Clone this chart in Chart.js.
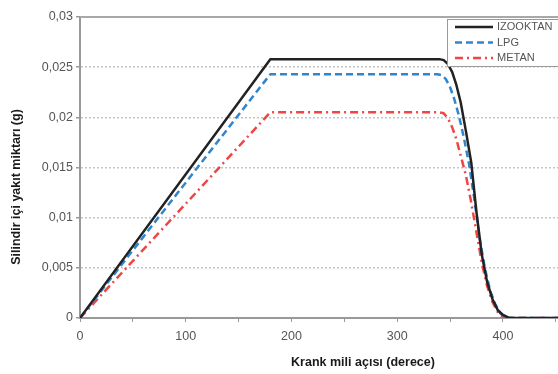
<!DOCTYPE html>
<html>
<head>
<meta charset="utf-8">
<script src="https://cdn.jsdelivr.net/npm/chart.js@4"></script>
<style>
    html, body { margin: 0; padding: 0; background: #fff; overflow: hidden; }
    #wrap { position: relative; width: 658px; height: 374px; }
</style>
</head>
<body>
<div id="wrap"><canvas id="chart"></canvas></div>
<script>
// crank angle (deg) -> fuel mass in cylinder (g)
const izooktanX = [0, 180, 340, 344, 348, 352, 356, 360, 365, 370, 375, 380, 385, 390, 395, 400, 405, 410, 540];
const izooktanY = [0, 0.0258, 0.0258, 0.0257, 0.0253, 0.0245, 0.0232, 0.0215, 0.0186, 0.0155, 0.0105, 0.0063, 0.0036, 0.0019, 0.0008, 0.0003, 0.00005, 0, 0];

const lpgX = [0, 180, 338, 342, 346, 350, 354, 358, 363, 368, 373, 378, 383, 388, 393, 398, 405, 540];
const lpgY = [0, 0.0243, 0.0243, 0.0242, 0.0238, 0.0230, 0.0218, 0.0203, 0.0180, 0.0153, 0.0118, 0.0079, 0.0049, 0.0027, 0.0013, 0.0004, 0, 0];

const metanX = [0, 180, 340, 344, 348, 352, 356, 360, 365, 370, 375, 380, 385, 390, 395, 400, 405, 540];
const metanY = [0, 0.0205, 0.0205, 0.0204, 0.0199, 0.0190, 0.0178, 0.0162, 0.0142, 0.0115, 0.0085, 0.0055, 0.0032, 0.0016, 0.0006, 0.0001, 0, 0];

const seriesNames = ['IZOOKTAN', 'LPG', 'METAN'];
const xTitle = 'Krank mili açısı (derece)';
const yTitle = 'Silindir içi yakıt miktarı (g)';

function toPoints(xs, ys) {
    return xs.map((x, i) => ({ x: x, y: ys[i] }));
}

function fmtComma(v) {
    return String(Math.round(v * 1000) / 1000).replace('.', ',');
}

// legend box, top line of the plot area and axis titles
const decorPlugin = {
    id: 'decor',
    afterDatasetsDraw(chart) {
        const ctx = chart.ctx;
        const area = chart.chartArea;
        ctx.save();
        // solid top border
        ctx.strokeStyle = '#a8a8a8';
        ctx.lineWidth = 2;
        ctx.beginPath();
        ctx.moveTo(area.left, area.top);
        ctx.lineTo(area.right, area.top);
        ctx.stroke();

        // legend
        const bx = 447.5, by = 19.5, bw = 120, bh = 47;
        ctx.fillStyle = '#fff';
        ctx.fillRect(bx, by, bw, bh);
        ctx.strokeStyle = '#999';
        ctx.lineWidth = 1;
        ctx.strokeRect(bx, by, bw, bh);
        ctx.font = '11px "Liberation Sans", Arial, sans-serif';
        ctx.textBaseline = 'middle';
        chart.data.datasets.forEach((ds, i) => {
            const yy = 27 + i * 15.5;
            ctx.strokeStyle = ds.borderColor;
            ctx.lineWidth = ds.borderWidth;
            ctx.setLineDash(ds.borderDash || []);
            ctx.beginPath();
            ctx.moveTo(455, yy);
            ctx.lineTo(493, yy);
            ctx.stroke();
            ctx.setLineDash([]);
            ctx.fillStyle = '#555';
            ctx.fillText(ds.label, 497, yy);
        });

        // axis titles
        ctx.fillStyle = '#1a1a1a';
        ctx.font = 'bold 12.5px "Liberation Sans", Arial, sans-serif';
        ctx.textAlign = 'center';
        ctx.fillText(xTitle, 363, 363);
        ctx.translate(17, 187);
        ctx.rotate(-Math.PI / 2);
        ctx.fillText(yTitle, 0, 0);
        ctx.restore();
    }
};

document.addEventListener('DOMContentLoaded', () => {
    const ctx = document.getElementById('chart').getContext('2d');
    const tickFont = { family: '"Liberation Sans", Arial, sans-serif', size: 12.5 };

    new Chart(ctx, {
        type: 'line',
        data: {
            datasets: [
                {
                    label: seriesNames[0],
                    data: toPoints(izooktanX, izooktanY),
                    borderColor: '#222',
                    borderWidth: 2.5,
                },
                {
                    label: seriesNames[1],
                    data: toPoints(lpgX, lpgY),
                    borderColor: '#2f86cf',
                    borderWidth: 2.5,
                    borderDash: [7, 4],
                },
                {
                    label: seriesNames[2],
                    data: toPoints(metanX, metanY),
                    borderColor: '#f04545',
                    borderWidth: 2.5,
                    borderDash: [8, 4, 2, 4],
                }
            ]
        },
        options: {
            responsive: true,
            maintainAspectRatio: false,
            animation: false,
            layout: { padding: { top: 17, right: 0, left: 0, bottom: 0 } },
            elements: {
                point: { radius: 0 },
                line: { tension: 0, fill: false, borderJoinStyle: 'round' }
            },
            plugins: {
                legend: { display: false },
                tooltip: { enabled: false }
            },
            scales: {
                x: {
                    type: 'linear',
                    min: 0,
                    max: 540,
                    afterFit: (scale) => { scale.height = 56; },
                    ticks: {
                        stepSize: 50,
                        autoSkip: false,
                        maxRotation: 0,
                        padding: 7,
                        color: '#555',
                        font: tickFont,
                        callback: (v) => (v % 100 === 0 ? String(v) : '')
                    },
                    grid: {
                        drawOnChartArea: false,
                        drawTicks: true,
                        tickLength: 4,
                        tickColor: '#999'
                    },
                    border: { color: '#999', width: 2 }
                },
                y: {
                    min: 0,
                    max: 0.03,
                    afterFit: (scale) => { scale.width = 80; },
                    ticks: {
                        stepSize: 0.005,
                        padding: 3,
                        color: '#555',
                        font: tickFont,
                        callback: (v) => fmtComma(v)
                    },
                    grid: {
                        color: '#c4c4c4',
                        lineWidth: 1.5,
                        tickLength: 4,
                        tickColor: '#999'
                    },
                    border: { color: '#999', width: 2, dash: [2, 2] }
                }
            }
        },
        plugins: [decorPlugin]
    });
});
</script>
</body>
</html>
